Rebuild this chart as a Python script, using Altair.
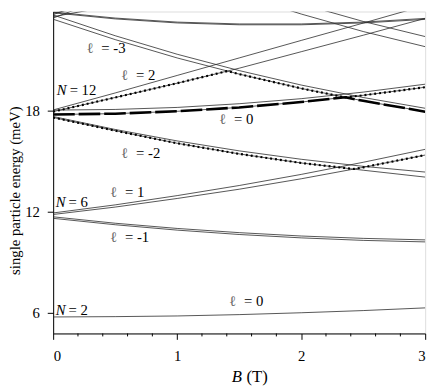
import altair as alt
import pandas as pd

# magnetic field sample points (T)
B = [0.0, 0.5, 1.0, 1.5, 2.0, 2.5, 3.0]

# N = 2 shell
n2_l0 = [5.74, 5.76, 5.80, 5.88, 5.99, 6.12, 6.28]
# N = 6 shell
n6_lp1_a = [11.92, 12.40, 12.95, 13.55, 14.21, 14.93, 15.70]
n6_lp1_b = [11.83, 12.27, 12.78, 13.33, 13.95, 14.63, 15.36]
n6_lm1_a = [11.69, 11.31, 11.00, 10.75, 10.55, 10.41, 10.32]
n6_lm1_b = [11.60, 11.22, 10.90, 10.64, 10.44, 10.29, 10.20]
# N = 12 shell
n12_lp2_a = [18.04, 19.05, 20.09, 21.13, 22.17, 23.20, 24.25]
n12_lp2_b = [17.94, 18.78, 19.63, 20.52, 21.50, 22.48, 23.48]
n12_l0_a = [18.03, 18.07, 18.19, 18.41, 18.71, 19.10, 19.57]
n12_l0_b = [17.77, 17.82, 17.96, 18.19, 18.51, 18.91, 19.39]
n12_lm2_a = [17.65, 16.88, 16.20, 15.61, 15.11, 14.69, 14.35]
n12_lm2_b = [17.59, 16.81, 16.06, 15.43, 14.89, 14.46, 14.05]
# N = 20 shell
n20_lm3_a = [23.68, 22.45, 21.35, 20.38, 19.52, 18.78, 18.14]
n20_lm3_b = [23.43, 22.22, 21.13, 20.17, 19.32, 18.58, 17.94]
n20_lm1_a = [23.81, 23.45, 23.21, 23.10, 23.10, 23.21, 23.42]
n20_lm1_b = [23.86, 23.50, 23.26, 23.15, 23.15, 23.26, 23.48]
n20_lp1_a = [23.58, 24.25, 24.95, 25.70, 26.50, 27.35, 28.20]
n20_lp1_b = [23.80, 24.45, 25.15, 25.90, 26.70, 27.55, 28.40]
n20_lp3_a = [23.50, 24.90, 26.30, 27.80, 29.30, 30.90, 32.50]
n20_lp3_b = [23.70, 25.10, 26.50, 28.00, 29.50, 31.10, 32.70]
# N = 30 shell (entering from above)
n30_lm4_a = [29.30, 27.68, 26.22, 24.90, 23.74, 22.70, 21.80]
n30_lm4_b = [29.90, 28.28, 26.82, 25.50, 24.34, 23.30, 22.40]

curves = {
    "n2_l0": n2_l0,
    "n6_lp1_a": n6_lp1_a, "n6_lp1_b": n6_lp1_b,
    "n6_lm1_a": n6_lm1_a, "n6_lm1_b": n6_lm1_b,
    "n12_lp2_a": n12_lp2_a, "n12_lp2_b": n12_lp2_b,
    "n12_l0_a": n12_l0_a, "n12_l0_b": n12_l0_b,
    "n12_lm2_a": n12_lm2_a, "n12_lm2_b": n12_lm2_b,
    "n20_lm3_a": n20_lm3_a, "n20_lm3_b": n20_lm3_b,
    "n20_lm1_a": n20_lm1_a, "n20_lm1_b": n20_lm1_b,
    "n20_lp1_a": n20_lp1_a, "n20_lp1_b": n20_lp1_b,
    "n20_lp3_a": n20_lp3_a, "n20_lp3_b": n20_lp3_b,
    "n30_lm4_a": n30_lm4_a, "n30_lm4_b": n30_lm4_b,
}

# highlighted level paths
dot1_B = [0.0, 0.5, 1.0, 1.405, 1.5, 2.0, 2.355, 2.5, 3.0]
dot1_E = [17.94, 18.78, 19.63, 20.35, 20.17, 19.32, 18.79, 18.91, 19.39]
dot2_B = [0.0, 0.5, 1.0, 1.5, 2.0, 2.423, 2.5, 3.0]
dot2_E = [17.59, 16.81, 16.06, 15.43, 14.89, 14.53, 14.63, 15.36]
thick_B = [0.0, 0.5, 1.0, 1.5, 2.0, 2.355, 2.5, 3.0]
thick_E = [17.77, 17.82, 17.96, 18.19, 18.51, 18.79, 18.58, 17.94]

# labels
lab_sym = ["ℓ", "ℓ", "N", "ℓ", "ℓ", "ℓ", "N", "ℓ", "N", "ℓ"]
lab_rest = ["= -3", "= 2", "= 12", "= 0", "= -2", "= 1", "= 6", "= -1", "= 2", "= 0"]
lab_B = [0.27, 0.55, 0.03, 1.34, 0.55, 0.46, 0.02, 0.46, 0.02, 1.42]
lab_E = [21.73, 20.10, 19.22, 17.48, 15.49, 13.16, 12.58, 10.48, 6.16, 6.69]

x_major = [0, 1, 2, 3]
x_minor = [0.2, 0.4, 0.6, 0.8, 1.2, 1.4, 1.6, 1.8, 2.2, 2.4, 2.6, 2.8]
y_ticks = [6, 12, 18]

rows = []
for name, vals in curves.items():
    for b, e in zip(B, vals):
        rows.append({"curve": name, "B": b, "E": e})
df = pd.DataFrame(rows)

paths = []
for name, bs, es in [("dot1", dot1_B, dot1_E), ("dot2", dot2_B, dot2_E)]:
    for i, (b, e) in enumerate(zip(bs, es)):
        paths.append({"path": name, "B": b, "E": e, "i": i})
dots = pd.DataFrame(paths)
thick = pd.DataFrame({"B": thick_B, "E": thick_E, "i": list(range(len(thick_B)))})
labs = pd.DataFrame({"sym": lab_sym, "rest": lab_rest, "B": lab_B, "E": lab_E})
minor = pd.DataFrame({"B": x_minor})

FONT = "Liberation Serif"
W, H = 379, 328
xs = alt.Scale(domain=[0, 3], nice=False, zero=False)
ys = alt.Scale(domain=[4.76, 23.89], nice=False, zero=False)

x_axis = alt.Axis(
    values=x_major, title=None, grid=False, labelOverlap=False, format="d",
    tickSize=6, labelPadding=10, labelFontSize=15, labelFont=FONT, labelColor="black",
    domainColor="black", tickColor="black",
)
y_axis = alt.Axis(
    values=y_ticks, title="single particle energy (meV)", grid=False,
    tickSize=6, labelPadding=8, labelFontSize=15, labelFont=FONT, labelColor="black",
    titleFont=FONT, titleFontSize=15, titleFontWeight="normal", titleColor="black",
    titlePadding=2, titleY=182, domainColor="black", tickColor="black",
)

base_x = alt.X("B:Q", scale=xs, axis=x_axis)
base_y = alt.Y("E:Q", scale=ys, axis=y_axis)

thin = alt.Chart(df).mark_line(clip=True, color="#2a2a2a", strokeWidth=0.8).encode(
    x=base_x, y=base_y, detail="curve:N", order="B:Q"
)
minor_ticks = alt.Chart(minor).mark_rule(color="black", strokeWidth=1).encode(
    x=alt.X("B:Q", scale=xs), y=alt.value(H), y2=alt.value(H + 3)
)
dotted = alt.Chart(dots).mark_line(
    clip=True, color="black", strokeWidth=2.2, strokeDash=[2, 3], interpolate="linear"
).encode(
    x=alt.X("B:Q", scale=xs), y=alt.Y("E:Q", scale=ys), detail="path:N", order="i:Q"
)
thick_line = alt.Chart(thick).mark_line(
    clip=True, color="black", strokeWidth=2.6, strokeDash=[22, 4], interpolate="linear"
).encode(x=alt.X("B:Q", scale=xs), y=alt.Y("E:Q", scale=ys), order="i:Q")

sym_l = alt.Chart(labs).transform_filter("datum.sym == 'ℓ'").mark_text(
    align="left", baseline="middle", font=FONT, fontSize=15, color="#666"
).encode(x=alt.X("B:Q", scale=xs), y=alt.Y("E:Q", scale=ys), text="sym:N")
sym_n = alt.Chart(labs).transform_filter("datum.sym == 'N'").mark_text(
    align="left", baseline="middle", font=FONT, fontSize=15, fontStyle="italic", color="black"
).encode(x=alt.X("B:Q", scale=xs), y=alt.Y("E:Q", scale=ys), text="sym:N")
rest_l = alt.Chart(labs).transform_filter("datum.sym == 'ℓ'").mark_text(
    align="left", baseline="middle", font=FONT, fontSize=15, color="black", dx=15
).encode(x=alt.X("B:Q", scale=xs), y=alt.Y("E:Q", scale=ys), text="rest:N")
rest_n = alt.Chart(labs).transform_filter("datum.sym == 'N'").mark_text(
    align="left", baseline="middle", font=FONT, fontSize=15, color="black", dx=13
).encode(x=alt.X("B:Q", scale=xs), y=alt.Y("E:Q", scale=ys), text="rest:N")

xt = pd.DataFrame({"t": ["B", "(T)"]})
title_b = alt.Chart(xt).transform_filter("datum.t == 'B'").mark_text(
    align="left", baseline="middle", font=FONT, fontSize=17, fontStyle="italic", color="black"
).encode(x=alt.value(182), y=alt.value(372), text="t:N")
title_t = alt.Chart(xt).transform_filter("datum.t == '(T)'").mark_text(
    align="left", baseline="middle", font=FONT, fontSize=17, color="black"
).encode(x=alt.value(197), y=alt.value(372), text="t:N")

chart = alt.layer(
    thin, minor_ticks, dotted, thick_line, sym_l, sym_n, rest_l, rest_n, title_b, title_t
).properties(
    width=W, height=H,
    autosize=alt.AutoSizeParams(type="none"),
    padding={"left": 46, "top": 0, "right": 10, "bottom": 52},
).configure_view(stroke="black", strokeWidth=1).configure(background="white")

chart.save("out.html", embed_options={"renderer": "svg", "actions": False})
